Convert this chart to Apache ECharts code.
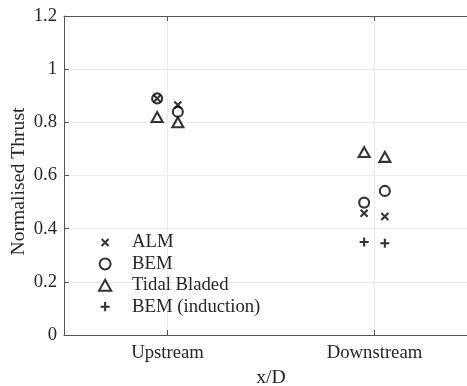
<!DOCTYPE html>
<html>
<head>
<meta charset="utf-8">
<script src="https://cdn.jsdelivr.net/npm/echarts@6/dist/echarts.min.js"></script>
<style>
  html, body { margin: 0; padding: 0; background: #fff; }
  #chart { width: 467px; height: 386px; }
</style>
</head>
<body>
<div id="chart"></div>
<script>
// Turbine positions along the array and their axis positions
const positions = ['Upstream', 'Downstream'];
const positionValues = [1, 2];
// Two turbines at each position, drawn just either side of the position
const turbineOffsets = [-0.05, 0.05];

// Normalised thrust for each model: [upstream L, upstream R, downstream L, downstream R]
const almThrust = [0.89, 0.865, 0.458, 0.446];
const bemThrust = [0.89, 0.84, 0.498, 0.542];
const tidalBladedThrust = [0.82, 0.80, 0.688, 0.67];
// Induction-corrected BEM only applies downstream
const bemInductionThrust = [null, null, 0.35, 0.345];

const yTicks = [0, 0.2, 0.4, 0.6, 0.8, 1, 1.2];

function toPoints(values) {
  const pts = [];
  positionValues.forEach((p, i) => {
    turbineOffsets.forEach((o, j) => {
      const v = values[i * turbineOffsets.length + j];
      if (v !== null) pts.push([p + o, v]);
    });
  });
  return pts;
}

const font = 'Liberation Serif, Times New Roman, serif';
const tickFontSize = 18.7;
const labelFontSize = 19.7;
const axisColor = '#555555';
const textColor = '#262626';
const gridColor = '#ebebeb';

const markerStyle = { color: 'rgba(0,0,0,0)', borderColor: '#000', borderWidth: 2.1 };
// Marker outlines; the leading moves pad the box so legend icons keep their relative sizes
const crossPath = 'path://M-3,-3M13,13M0,0L10,10M10,0L0,10';
const plusPath = 'path://M-1,-1M11,11M5,0L5,10M0,5L10,5';
const trianglePath = 'path://M5,0L10,9L0,9Z';

const chart = echarts.init(document.getElementById('chart'), null, { renderer: 'canvas' });

chart.setOption({
  animation: false,
  backgroundColor: '#fff',
  textStyle: { fontFamily: font },
  grid: { left: 64, top: 16, right: -11, bottom: 51, containLabel: false, outerBoundsMode: 'none' },
  legend: {
    orient: 'vertical',
    left: 93,
    top: 228,
    itemWidth: 44,
    itemHeight: 11,
    itemGap: 2.4,
    selectedMode: false,
    textStyle: { fontFamily: font, fontSize: tickFontSize, color: textColor, lineHeight: 19 },
    data: ['ALM', 'BEM', 'Tidal Bladed', 'BEM (induction)']
  },
  xAxis: [
    {
      type: 'value',
      min: 0.5,
      max: 2.5,
      position: 'bottom',
      name: 'x/D',
      nameLocation: 'middle',
      nameGap: 33,
      nameTextStyle: { fontFamily: font, fontSize: labelFontSize, color: textColor },
      axisLine: { show: true, lineStyle: { color: axisColor, width: 1 } },
      axisTick: { show: true, inside: true, length: 5, customValues: positionValues,
                  lineStyle: { color: axisColor } },
      axisLabel: {
        customValues: positionValues,
        margin: 9,
        fontFamily: font, fontSize: tickFontSize, color: textColor,
        formatter: v => positions[positionValues.indexOf(v)] || ''
      },
      splitLine: { show: true, lineStyle: { color: gridColor, width: 1 } }
    },
    {
      type: 'value',
      min: 0.5,
      max: 2.5,
      position: 'top',
      axisLine: { show: true, lineStyle: { color: axisColor, width: 1 } },
      axisTick: { show: true, inside: true, length: 5, customValues: positionValues,
                  lineStyle: { color: axisColor } },
      axisLabel: { show: false },
      splitLine: { show: false }
    }
  ],
  yAxis: {
    type: 'value',
    min: 0,
    max: 1.2,
    interval: 0.2,
    name: 'Normalised Thrust',
    nameLocation: 'middle',
    nameGap: 35,
    nameMoveOverlap: false,
    nameTextStyle: { fontFamily: font, fontSize: labelFontSize, color: textColor,
                     padding: [0, 12, 0, 0] },
    axisLine: { show: true, lineStyle: { color: axisColor, width: 1 } },
    axisTick: { show: true, inside: true, length: 5, lineStyle: { color: axisColor } },
    axisLabel: {
      margin: 7,
      fontFamily: font, fontSize: tickFontSize, color: textColor,
      formatter: v => {
        const t = yTicks.find(y => Math.abs(y - v) < 1e-9);
        return t === undefined ? '' : String(t);
      }
    },
    splitLine: { show: true, lineStyle: { color: gridColor, width: 1 } }
  },
  series: [
    {
      name: 'ALM', type: 'scatter', xAxisIndex: 0,
      symbol: crossPath, symbolSize: 11.2, symbolKeepAspect: true,
      itemStyle: markerStyle, data: toPoints(almThrust), z: 4
    },
    {
      name: 'BEM', type: 'scatter', xAxisIndex: 0,
      symbol: 'circle', symbolSize: 10,
      itemStyle: markerStyle, data: toPoints(bemThrust), z: 3
    },
    {
      name: 'Tidal Bladed', type: 'scatter', xAxisIndex: 0,
      symbol: trianglePath, symbolSize: 11, symbolKeepAspect: true,
      itemStyle: markerStyle, data: toPoints(tidalBladedThrust), z: 3
    },
    {
      name: 'BEM (induction)', type: 'scatter', xAxisIndex: 0,
      symbol: plusPath, symbolSize: 10.8, symbolKeepAspect: true,
      itemStyle: markerStyle, data: toPoints(bemInductionThrust), z: 3
    }
  ]
});
</script>
</body>
</html>
